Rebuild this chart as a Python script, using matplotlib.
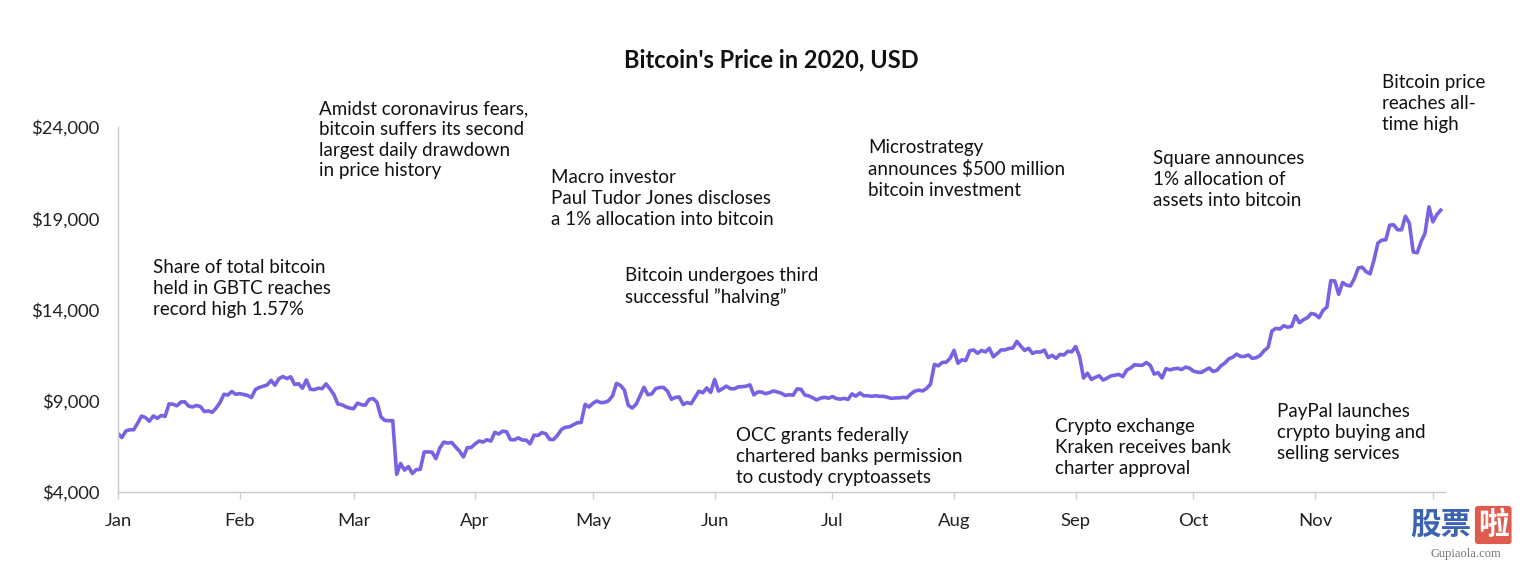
import matplotlib
matplotlib.use("Agg")
import matplotlib.pyplot as plt
import numpy as np

# ---- data: daily BTC price (USD), 2020 ----
jan = [7200, 6985, 7345, 7410, 7411, 7769, 8163, 8080, 7880, 8166, 8037, 8192, 8144, 8827, 8808,
       8723, 8929, 8943, 8707, 8658, 8745, 8681, 8406, 8445, 8367, 8597, 8910, 9358, 9316, 9508, 9350]
feb = [9392, 9344, 9293, 9180, 9613, 9729, 9795, 9865, 10116, 9856, 10208, 10326, 10214, 10312, 9889,
       9934, 9690, 10141, 9633, 9608, 9686, 9663, 9924, 9650, 9341, 8820, 8784, 8672, 8599]
mar = [8562, 8869, 8787, 8755, 9078, 9122, 8909, 8108, 7923, 7909, 7911, 4970, 5563, 5200, 5392,
       5014, 5225, 5238, 6191, 6198, 6185, 5830, 6416, 6734, 6681, 6716, 6469, 6242, 5922, 6429, 6438]
apr = [6642, 6794, 6738, 6862, 6792, 7271, 7176, 7335, 7303, 6866, 6859, 6971, 6845, 6843, 6642,
       7117, 7097, 7257, 7189, 6882, 6880, 7117, 7430, 7550, 7569, 7679, 7795, 7807, 8801, 8658]
may = [8864, 8989, 8897, 8912, 9003, 9268, 9951, 9842, 9593, 8756, 8601, 8804, 9269, 9733, 9328,
       9377, 9670, 9726, 9729, 9522, 9081, 9182, 9209, 8790, 8906, 8836, 9181, 9525, 9439, 9700, 9461]
jun = [10167, 9529, 9657, 9800, 9665, 9653, 9758, 9771, 9795, 9870, 9321, 9480, 9475, 9386, 9450,
       9538, 9480, 9411, 9288, 9332, 9303, 9648, 9629, 9313, 9264, 9162, 9045, 9143, 9190, 9137]
jul = [9228, 9123, 9087, 9132, 9073, 9375, 9252, 9428, 9277, 9278, 9240, 9276, 9243, 9243, 9192,
       9132, 9151, 9159, 9185, 9164, 9374, 9525, 9581, 9536, 9677, 9905, 10990, 10912, 11100, 11111, 11323]
aug = [11759, 11053, 11246, 11205, 11747, 11779, 11601, 11754, 11675, 11878, 11410, 11584, 11784, 11786, 11865,
       11892, 12254, 11991, 11758, 11878, 11592, 11681, 11664, 11774, 11366, 11488, 11323, 11542, 11507, 11711, 11680]
sep = [11970, 11414, 10245, 10511, 10169, 10280, 10370, 10131, 10242, 10364, 10400, 10443, 10323, 10680, 10796,
       10974, 10948, 10944, 11094, 10938, 10463, 10538, 10247, 10760, 10692, 10750, 10775, 10709, 10845, 10784]
oct_ = [10620, 10570, 10551, 10677, 10793, 10604, 10668, 10915, 11065, 11296, 11384, 11555, 11426, 11430, 11505,
        11323, 11359, 11484, 11742, 11916, 12823, 12965, 12931, 13108, 13031, 13075, 13654, 13271, 13437, 13546, 13781]
nov = [13737, 13550, 13950, 14133, 15579, 15565, 14833, 15479, 15332, 15290, 15701, 16276, 16317, 16068, 15955,
       16716, 17645, 17804, 17817, 18621, 18642, 18370, 18364, 19107, 18732, 17150, 17108, 17717, 18177, 19625]
dec = [18802, 19201, 19445]

month_labels = ["Jan", "Feb", "Mar", "Apr", "May", "Jun", "Jul", "Aug", "Sep", "Oct", "Nov", ""]
month_lengths = [31, 29, 31, 30, 31, 30, 31, 31, 30, 31, 30]
y_ticks = [4000, 9000, 14000, 19000, 24000]

annotations = [
    ("Share of total bitcoin\nheld in GBTC reaches\nrecord high 1.57%", 153, 259),
    ("Amidst coronavirus fears,\nbitcoin suffers its second\nlargest daily drawdown\nin price history", 319, 100),
    ("Macro investor\nPaul Tudor Jones discloses\na 1% allocation into bitcoin", 551, 169),
    ("Bitcoin undergoes third\nsuccessful \u201dhalving\u201d", 625, 267),
    ("OCC grants federally\nchartered banks permission\nto custody cryptoassets", 736, 427),
    ("Microstrategy\nannounces $500 million\nbitcoin investment", 868, 139),
    ("Crypto exchange\nKraken receives bank\ncharter approval", 1055, 418),
    ("Square announces\n1% allocation of\nassets into bitcoin", 1153, 150),
    ("PayPal launches\ncrypto buying and\nselling services", 1277, 403),
    ("Bitcoin price\nreaches all-\ntime high", 1382, 74),
]

prices = jan + feb + mar + apr + may + jun + jul + aug + sep + oct_ + nov + dec
days = np.arange(len(prices))
month_starts = np.concatenate([[0], np.cumsum(month_lengths)])

plt.rcParams['font.family'] = ['Lato', 'DejaVu Sans']
W, H = 1526, 561
fig = plt.figure(figsize=(W / 100, H / 100), dpi=100)
fig.patch.set_facecolor('white')

x0, x1, ytop, ybot = 118, 1445, 127, 492
ax = fig.add_axes([x0 / W, 1 - ybot / H, (x1 - x0) / W, (ybot - ytop) / H])
ax.plot(days, prices, color='#7563E3', lw=2.6, solid_joinstyle='round')
ax.set_xlim(0, (x1 - x0) / 3.925)
ax.set_ylim(4000, 24000)

ax.set_yticks(y_ticks)
ax.set_yticklabels([f"${v:,}" for v in y_ticks])
ax.set_xticks(month_starts)
ax.set_xticklabels(month_labels)
for s in ['top', 'right']:
    ax.spines[s].set_visible(False)
for s in ['left', 'bottom']:
    ax.spines[s].set_color('#c8c8c8')
    ax.spines[s].set_linewidth(1.0)
ax.tick_params(axis='y', length=0, pad=13.5, labelsize=13.3, labelcolor='#222222')
ax.tick_params(axis='x', length=5, width=1, color='#d0d0d0', pad=10, labelsize=13.3, labelcolor='#222222')

fig.text(771 / W, 1 - 60 / H, "Bitcoin's Price in 2020, USD", ha='center', va='center',
         fontsize=17, fontweight='bold', color='#111111')

for txt, x, y in annotations:
    fig.text(x / W, 1 - y / H, txt, ha='left', va='top', fontsize=13.5, color='#111111',
             linespacing=1.27)

# watermark
fig.text(1410 / W, 1 - 525 / H, "股票", fontsize=22, fontweight='bold', color='#3d63b0',
         family=['Noto Sans CJK SC', 'DejaVu Sans'], va='center', ha='left')
fig.text(1478 / W, 1 - 525 / H, "啦", fontsize=22, fontweight='bold', color='white',
         family=['Noto Sans CJK SC', 'DejaVu Sans'], va='center', ha='left',
         bbox=dict(boxstyle='round,pad=0.1', fc='#e05a4e', ec='none'))
fig.text(1466 / W, 1 - 554 / H, "Gupiaola.com", fontsize=9, color='#777777',
         family='Liberation Serif', va='center', ha='center')

fig.savefig('out.png', dpi=100, facecolor='white')
